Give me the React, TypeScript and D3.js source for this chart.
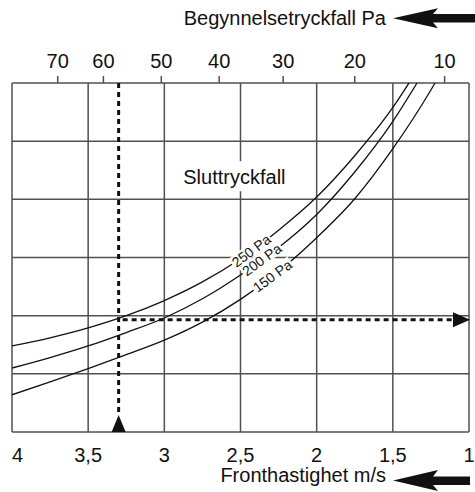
import React from "react";
import * as d3 from "d3";

// Bottom axis: front velocity (m/s)
const velocityTicks = [4, 3.5, 3, 2.5, 2, 1.5, 1];
const velocityLabels = ["4", "3,5", "3", "2,5", "2", "1,5", "1"];
// Top axis: initial pressure drop (Pa) and the velocity each tick sits at
const pressureTicks = [70, 60, 50, 40, 30, 20, 10];
const pressureTickVelocity = [3.70, 3.40, 3.02, 2.64, 2.22, 1.75, 1.16];
// Vertical (unlabelled) grid rows
const rowTicks = [0, 1, 2, 3, 4, 5, 6];

// Curves: final pressure drop
const curveNames = ["250 Pa", "200 Pa", "150 Pa"];
const curve250V = [4.0, 3.75, 3.5, 3.25, 3.0, 2.75, 2.5, 2.25, 2.0, 1.75, 1.5, 1.394];
const curve250Y = [1.48, 1.62, 1.79, 2.0, 2.26, 2.58, 2.98, 3.47, 4.04, 4.75, 5.58, 6.0];
const curve200V = [4.0, 3.75, 3.5, 3.25, 3.0, 2.75, 2.5, 2.25, 2.0, 1.75, 1.5, 1.341];
const curve200Y = [1.1, 1.28, 1.48, 1.71, 1.96, 2.29, 2.7, 3.17, 3.74, 4.47, 5.34, 6.0];
const curve150V = [4.0, 3.75, 3.5, 3.25, 3.0, 2.75, 2.5, 2.25, 2.0, 1.75, 1.5, 1.25, 1.223];
const curve150Y = [0.64, 0.86, 1.09, 1.33, 1.58, 1.89, 2.28, 2.76, 3.34, 4.01, 4.87, 5.88, 6.0];
const curveLabelV = [2.43, 2.36, 2.29];

// Example reading
const exampleV = 3.3;
const exampleY = 1.93;
const titleV = 2.54;
const titleY = 4.38;

const W = 475;
const H = 492;
const left = 12, right = 469, top = 83, bottom = 432;
const FONT = "'Liberation Sans', Arial, Helvetica, sans-serif";

export default function App() {
  const x = d3.scaleLinear().domain([4, 1]).range([left, right]);
  const y = d3.scaleLinear().domain([0, 6]).range([bottom, top]);

  const series = [
    curve250V.map((v, i) => ({ v, y: curve250Y[i] })),
    curve200V.map((v, i) => ({ v, y: curve200Y[i] })),
    curve150V.map((v, i) => ({ v, y: curve150Y[i] })),
  ];

  const line = d3
    .line<{ v: number; y: number }>()
    .x((d) => x(d.v))
    .y((d) => y(d.y))
    .curve(d3.curveMonotoneX);

  const pointAt = (s: { v: number; y: number }[], v: number) => {
    for (let i = 0; i < s.length - 1; i++) {
      const a = s[i], b = s[i + 1];
      if (v <= a.v && v >= b.v) {
        const t = (a.v - v) / (a.v - b.v);
        const px = x(a.v) + t * (x(b.v) - x(a.v));
        const py = y(a.y) + t * (y(b.y) - y(a.y));
        const ang = (Math.atan2(y(b.y) - y(a.y), x(b.v) - x(a.v)) * 180) / Math.PI;
        return { px, py, ang };
      }
    }
    return { px: 0, py: 0, ang: 0 };
  };

  const gridColor = "#505050";
  const ex = x(exampleV);
  const ey = y(exampleY);

  return (
    <svg
      width={W}
      height={H}
      style={{ position: "absolute", left: 0, top: 0, background: "#fff" }}
      fontFamily={FONT}
    >
      <defs>
        <clipPath id="plot">
          <rect x={left} y={top} width={right - left} height={bottom - top} />
        </clipPath>
      </defs>

      {/* vertical grid */}
      {velocityTicks.map((v) => (
        <line key={"v" + v} x1={x(v)} x2={x(v)} y1={top} y2={bottom} stroke={gridColor} strokeWidth={1.5} />
      ))}
      {/* horizontal grid */}
      {rowTicks.map((r) => (
        <line key={"h" + r} x1={left} x2={right} y1={y(r)} y2={y(r)} stroke={gridColor} strokeWidth={1.5} />
      ))}

      {/* top ticks and labels */}
      {pressureTicks.map((p, i) => {
        const px = x(pressureTickVelocity[i]);
        return (
          <g key={"p" + p}>
            <line x1={px} x2={px} y1={top - 7} y2={top} stroke={gridColor} strokeWidth={1.5} />
            <text x={px} y={68} fontSize={20} textAnchor="middle" fill="#111">
              {p}
            </text>
          </g>
        );
      })}

      {/* bottom labels */}
      {velocityTicks.map((v, i) => (
        <text
          key={"l" + v}
          x={x(v)}
          y={462}
          fontSize={20}
          textAnchor={i === 0 ? "start" : "middle"}
          fill="#111"
        >
          {velocityLabels[i]}
        </text>
      ))}

      {/* title inside plot */}
      <g>
        <rect x={x(titleV) - 54} y={y(titleY) - 16} width={108} height={30} fill="#fff" />
        <text x={x(titleV)} y={y(titleY) + 7} fontSize={20} textAnchor="middle" fill="#111">
          Sluttryckfall
        </text>
      </g>

      {/* curves */}
      <g clipPath="url(#plot)">
        {series.map((s, i) => (
          <path key={"c" + i} d={line(s) || ""} fill="none" stroke="#111" strokeWidth={1.3} />
        ))}
      </g>

      {/* curve labels */}
      {series.map((s, i) => {
        const p = pointAt(s, curveLabelV[i]);
        const w = 45;
        return (
          <g key={"cl" + i} transform={`translate(${p.px},${p.py}) rotate(${p.ang})`}>
            <rect x={-w / 2 - 1} y={-7} width={w + 2} height={13} fill="#fff" />
            <text x={0} y={5} fontSize={14} textAnchor="middle" fill="#111">
              {curveNames[i]}
            </text>
          </g>
        );
      })}

      {/* example dashed lines */}
      <line x1={ex} x2={ex} y1={top} y2={bottom - 17} stroke="#111" strokeWidth={3} strokeDasharray="5,4" />
      <path d={`M${ex},${bottom - 17} L${ex + 7},${bottom} L${ex - 7},${bottom} Z`} fill="#111" />
      <line x1={ex + 4} x2={right - 16} y1={ey} y2={ey} stroke="#111" strokeWidth={3} strokeDasharray="5,4" />
      <path d={`M${right + 1},${ey} L${right - 16},${ey - 7.5} L${right - 16},${ey + 7.5} Z`} fill="#111" />

      {/* top axis title with arrow */}
      <text x={386} y={25} fontSize={20} textAnchor="end" fill="#111">
        Begynnelsetryckfall Pa
      </text>
      <path d="M393,18.3 L438,8.3 L433,14 L475,14 L475,22.6 L433,22.6 L438,28.3 Z" fill="#111" />

      {/* bottom axis title with arrow */}
      <text x={386} y={482} fontSize={20} textAnchor="end" fill="#111">
        Fronthastighet m/s
      </text>
      <path d="M393,480.5 L438,470 L433,476.5 L470,476.5 L470,485 L433,485 L438,491 Z" fill="#111" />
    </svg>
  );
}
